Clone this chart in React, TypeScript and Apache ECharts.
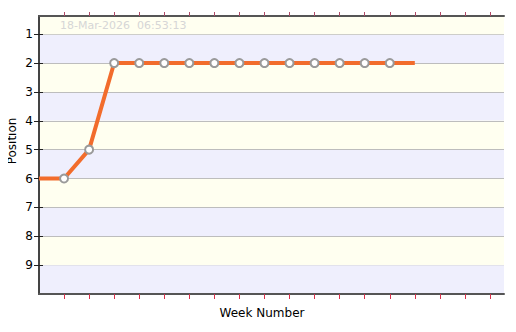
import React, { useEffect, useRef } from "react";
import * as echarts from "echarts";

const weeks = [0, 1, 2, 3, 4, 5, 6, 7, 8, 9, 10, 11, 12, 13, 14, 15];
const positions = [6, 6, 5, 2, 2, 2, 2, 2, 2, 2, 2, 2, 2, 2, 2, 2];
const yTicks = [1, 2, 3, 4, 5, 6, 7, 8, 9];
const xTicks = [1, 2, 3, 4, 5, 6, 7, 8, 9, 10, 11, 12, 13, 14, 15, 16, 17, 18];
const stampText = "18-Mar-2026  06:53:13";
const xTitle = "Week Number";
const yTitle = "Position";
const yMin = 0.37;
const yMax = 10;

export default function App() {
  const ref = useRef<HTMLDivElement>(null);
  useEffect(() => {
    if (!ref.current) return;
    const chart = echarts.init(ref.current, null, { renderer: "svg" });
    const font = "DejaVu Sans, Verdana, sans-serif";
    const lastIdx = weeks.length - 1;
    const data = weeks.map((w, i) => {
      const item: any = { value: [w, positions[i]] };
      if (i === 0 || i === lastIdx) item.symbol = "none";
      return item;
    });
    const xBase = {
      type: "value",
      min: 0,
      max: 18.56,
      axisLabel: { show: false },
      splitLine: { show: false },
      axisLine: { show: true, lineStyle: { color: "#555", width: 2 } },
    };
    chart.setOption({
      animation: false,
      grid: { left: 39, right: 12, top: 16, bottom: 38, containLabel: false, outerBoundsMode: "none" },
      xAxis: [
        {
          ...xBase,
          position: "bottom",
          axisTick: { show: true, customValues: xTicks, length: 5, inside: false, lineStyle: { color: "#d8304c", width: 1 } },
        },
        {
          ...xBase,
          position: "top",
          axisTick: { show: true, customValues: xTicks, length: 4, inside: false, lineStyle: { color: "#b04a66", width: 1 } },
        },
      ],
      yAxis: [
        {
          type: "value",
          inverse: true,
          min: yMin,
          max: yMax,
          position: "left",
          axisLine: { show: true, lineStyle: { color: "#444", width: 2 } },
          axisTick: { show: true, customValues: yTicks, length: 5, lineStyle: { color: "#222" } },
          axisLabel: { customValues: yTicks, fontFamily: font, fontSize: 12, color: "#000", margin: 6 },
          splitLine: { show: true, lineStyle: { color: "#bdbdbd", width: 1 } },
          splitArea: { show: true, areaStyle: { color: ["#efeffd", "#fffff0"] } },
        },
        {
          type: "value",
          inverse: true,
          min: yMin,
          max: yMax,
          position: "right",
          axisLine: { show: true, lineStyle: { color: "#444", width: 2 } },
          axisTick: { show: true, customValues: yTicks, length: 4, lineStyle: { color: "#222" } },
          axisLabel: { show: false },
          splitLine: { show: false },
        },
      ],
      graphic: [
        {
          type: "text",
          left: 60,
          top: 20,
          z: 100,
          style: { text: stampText, fontFamily: font, fontSize: 11, fill: "#d6d6d6" },
        },
        {
          type: "text",
          x: 262,
          y: 313,
          style: { text: xTitle, fontFamily: font, fontSize: 12, fill: "#000", align: "center", verticalAlign: "middle" },
        },
        {
          type: "text",
          x: 12,
          y: 141,
          rotation: Math.PI / 2,
          style: { text: yTitle, fontFamily: font, fontSize: 12, fill: "#000", align: "center", verticalAlign: "middle" },
        },
      ],
      series: [
        {
          type: "line",
          xAxisIndex: 0,
          yAxisIndex: 0,
          data,
          symbol: "circle",
          symbolSize: 8,
          showAllSymbol: true,
          lineStyle: { color: "#f26c2c", width: 4 },
          itemStyle: { color: "#ffffff", borderColor: "#9a9a9a", borderWidth: 2 },
          z: 5,
          markArea: {
            silent: true,
            z: 0,
            data: [
              [{ yAxis: yMin, itemStyle: { color: "#fffff0" } }, { yAxis: 1 }],
              [{ yAxis: 9, itemStyle: { color: "#efeffd" } }, { yAxis: yMax }],
            ],
          },
        },
      ],
    });
    return () => chart.dispose();
  }, []);
  return <div ref={ref} style={{ width: 516, height: 332, margin: -8 }} />;
}
